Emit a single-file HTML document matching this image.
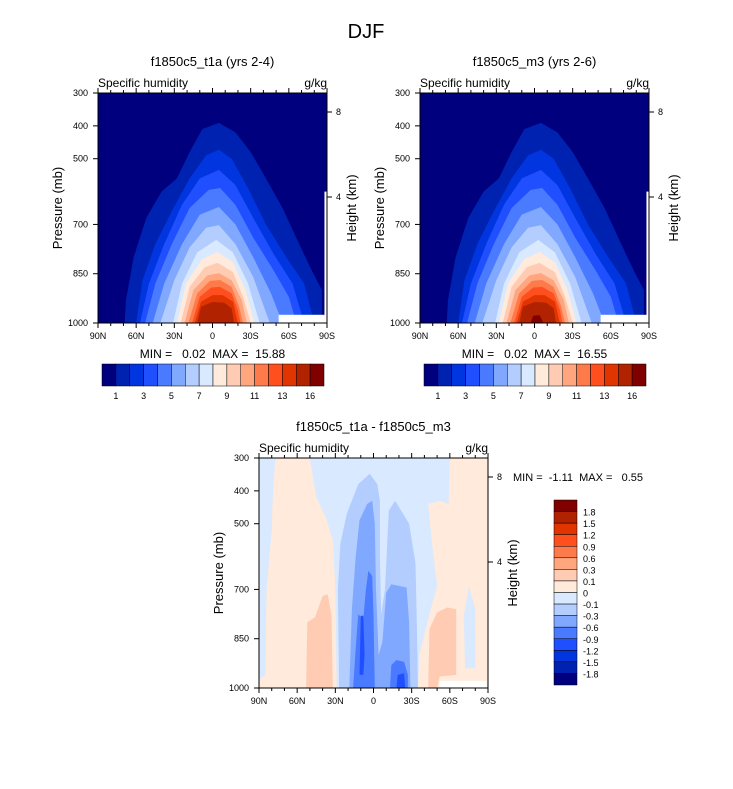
<!DOCTYPE html>
<html><head><meta charset="utf-8"><style>
body{margin:0;background:#fff;}
svg text{font-family:"Liberation Sans",sans-serif;fill:#000;white-space:pre;}
</style></head><body>
<svg id="s" width="733" height="784" viewBox="0 0 733 784" xmlns="http://www.w3.org/2000/svg">
<text x="366" y="38" font-size="20" text-anchor="middle">DJF</text>
</svg>
<script>
// ---------- data ----------
const colorsAbs = ["#00007f","#0022b0","#0035e0","#1f4fff","#4a7aff","#80a8ff","#b3cdff","#d9e9ff","#ffeadb","#ffcbb3","#ffa67f","#ff7a4a","#ff4f1f","#e03500","#b02200","#800000"];
const absBarLabels = ["1","3","5","7","9","11","13","16"];
const diffBarLabels = ["1.8","1.5","1.2","0.9","0.6","0.3","0.1","0","-0.1","-0.3","-0.6","-0.9","-1.2","-1.5","-1.8"];
const pressureTicks = [300,400,500,700,850,1000];
const latTicks = [90,60,30,0,-30,-60,-90];
const latTickLabels = ["90N","60N","30N","0","30S","60S","90S"];
const heightTicks = [8,4];
// level contour profiles [lat, pressure]
const levelsA = [
 [1,[[69,1000],[68,930],[62,800],[52,680],[40,600],[28,560],[18,480],[8,410],[-5,391],[-18,420],[-30,480],[-42,560],[-55,650],[-67,750],[-78,840],[-86,900],[-86,1000]]],
 [2,[[60,1000],[55,870],[45,760],[32,660],[18,560],[5,490],[-5,473],[-15,500],[-28,590],[-42,700],[-58,800],[-72,880],[-80,1000]]],
 [3,[[57,1000],[50,880],[38,760],[24,640],[10,560],[-5,534],[-18,580],[-32,680],[-48,790],[-63,880],[-72,1000]]],
 [4,[[53,1000],[45,880],[32,760],[18,650],[3,595],[-6,589],[-18,640],[-32,740],[-48,840],[-60,920],[-66,1000]]],
 [5,[[47,1000],[38,880],[24,760],[10,670],[-5,647],[-18,700],[-32,800],[-46,910],[-55,1000]]],
 [6,[[41,1000],[30,870],[18,770],[5,710],[-5,702],[-18,760],[-32,860],[-45,1000]]],
 [7,[[31,1000],[24,880],[12,785],[-3,747],[-16,785],[-28,880],[-37,1000]]],
 [8,[[28,1000],[21,880],[8,805],[-4,784],[-16,815],[-26,900],[-33,1000]]],
 [9,[[25,1000],[18,890],[6,830],[-4,817],[-16,845],[-24,920],[-30,1000]]],
 [10,[[22,1000],[15,900],[4,855],[-5,848],[-15,870],[-23,930],[-27,1000]]],
 [11,[[19,1000],[12,910],[2,872],[-6,869],[-15,890],[-21,950],[-24,1000]]],
 [12,[[16,1000],[10,920],[1,892],[-6,890],[-15,910],[-20,960],[-22,1000]]],
 [13,[[14,1000],[9,935],[0,915],[-8,915],[-16,935],[-20,1000]]],
 [14,[[12,1000],[9,950],[0,936],[-9,938],[-15,955],[-17,1000]]]
];
const levelsB = levelsA.concat([[15,[[3,1000],[1,978],[-4,976],[-7,1000]]]]);
// diff field regions [colorIndex, polygon of [lat,p]]
const diffRegions = [
 [8,[[77,300],[50,300],[45,420],[37,485],[32,552],[30,694],[29,1000],[90,1000],[90,975],[85,960],[84,700],[80,520],[79,400]]],
 [8,[[-60,300],[-90,300],[-90,1000],[-35,1000],[-36,900],[-44,775],[-50,690],[-46,560],[-43,440],[-52,430],[-59,440]]],
 [7,[[-71,780],[-75,690],[-80,760],[-80,940],[-72,940]]],
 [9,[[53,1000],[52,800],[46,785],[40,720],[36,715],[33,780],[32,1000]]],
 [9,[[-43,1000],[-44,820],[-50,770],[-58,755],[-65,760],[-65,960],[-52,965],[-50,1000]]],
 [6,[[27,1000],[28,700],[26,560],[21,470],[12,380],[3,348],[-3,380],[-5,430],[-5,600],[-6,776],[-9,700],[-12,460],[-17,430],[-28,500],[-33,620],[-34,800],[-35,1000]]],
 [5,[[19,1000],[17,760],[14,600],[11,490],[5,440],[1,430],[-1,500],[-2,700],[-4,900],[-7,860],[-10,710],[-14,684],[-26,694],[-28,800],[-29,1000]]],
 [4,[[16,1000],[14,880],[12,776],[8,790],[6,700],[4,643],[1,660],[0,780],[-1,1000]]],
 [4,[[-13,1000],[-14,930],[-18,915],[-24,920],[-27,960],[-27,1000]]],
 [3,[[11,960],[10,780],[8,780],[7,900],[8,960]]],
 [3,[[-18,1000],[-19,960],[-24,955],[-25,1000]]]
];
// ---------- drawing ----------
const NS="http://www.w3.org/2000/svg";
const svg=document.getElementById('s');
function mk(tag,attrs,parent){const e=document.createElementNS(NS,tag);for(const k in attrs)e.setAttribute(k,attrs[k]);(parent||svg).appendChild(e);return e;}
function txt(x,y,s,size,anchor,parent,rot){const t=mk('text',{x:x,y:y,'font-size':size,'text-anchor':anchor||'start'},parent);if(rot)t.setAttribute('transform','rotate(-90 '+x+' '+y+')');t.textContent=s;return t;}

function panel(x0,y0,name,title,minmax,regions,bg,whites){
  const W=229,H=230;
  const xs=lat=>x0+(90-lat)/180*W;
  const ys=p=>y0+(p-300)/700*H;
  const g=mk('g',{});
  
  
  const bgr=mk('rect',{x:x0,y:y0,width:W,height:H,fill:colorsAbs[bg]},g);
  
  
  regions.forEach((r,i)=>{
    const pts=r[1].map(q=>xs(q[0]).toFixed(1)+','+ys(q[1]).toFixed(1)).join(' ');
    const pg=mk('polygon',{points:pts,fill:colorsAbs[r[0]]},g);
    
    
  });
  whites.forEach(w=>{const e=mk('rect',{x:xs(w[0]),y:ys(w[2]),width:xs(w[1])-xs(w[0]),height:ys(w[3])-ys(w[2]),fill:'#fff'},g);
    
    });
  const fr=mk('rect',{x:x0,y:y0,width:W,height:H,fill:'none',stroke:'#000','stroke-width':1},g);
  
  
  for(let lat=90;lat>=-90;lat-=10){const major=lat%30===0;const L=major?5:3;
    mk('line',{x1:xs(lat),x2:xs(lat),y1:y0,y2:y0-L,stroke:'#000'},g);
    mk('line',{x1:xs(lat),x2:xs(lat),y1:y0+H,y2:y0+H+L,stroke:'#000'},g);}
  latTicks.forEach((lat,i)=>{const t=txt(xs(lat),y0+H+16,latTickLabels[i],9,'middle',g);
    
    });
  pressureTicks.forEach(p=>{mk('line',{x1:x0,x2:x0-5,y1:ys(p),y2:ys(p),stroke:'#000'},g);
    const t=txt(x0-10,ys(p)+3,String(p),9,'end',g);
    
    });
  heightTicks.forEach(h=>{const yy=(h===8)?y0+19:y0+104;
    mk('line',{x1:x0+W,x2:x0+W+5,y1:yy,y2:yy,stroke:'#000'},g);
    const t=txt(x0+W+9,yy+3,String(h),9,'start',g);
    
    });
  const yt=txt(x0-36,y0+H/2,'Pressure (mb)',13,'middle',g,true);
  
  
  const ht=txt(x0+W+29,y0+H/2,'Height (km)',13,'middle',g,true);
  
  
  const st=txt(x0,y0-6,'Specific humidity',12,'start',g);
  
  
  const ut=txt(x0+W,y0-6,'g/kg',12,'end',g);
  
  
  const tt=txt(x0+W/2,y0-27,title,13,'middle',g);
  
  
  if(minmax){const m=txt(x0+W/2,y0+H+35,minmax,12,'middle',g);
    
    }
}
function hbar(x0,y0,name){
  const g=mk('g',{});
  
  
  const bw=222/16;
  colorsAbs.forEach((c,i)=>{const r=mk('rect',{x:x0+i*bw,y:y0,width:bw,height:22,fill:c,stroke:'#000','stroke-width':0.5},g);
    
    });
  absBarLabels.forEach((s,i)=>{const t=txt(x0+(2*i+1)*bw,y0+35,s,9,'middle',g);
    
    });
}
const whiteA=[[-52,-88,975,1000],[-88,-90,600,1000]];
panel(98,93,'panel-t1a','f1850c5_t1a (yrs 2-4)','MIN =   0.02  MAX =  15.88',levelsA,0,whiteA);
panel(420,93,'panel-m3','f1850c5_m3 (yrs 2-6)','MIN =   0.02  MAX =  16.55',levelsB,0,whiteA);
hbar(102,364,'colorbar-t1a');
hbar(424,364,'colorbar-m3');
panel(259,458,'panel-diff','f1850c5_t1a - f1850c5_m3',null,diffRegions,7,[[-52,-89,978,1000]]);
const mm=txt(513,481,'MIN =  -1.11  MAX =   0.55',11,'start');


(function(){
  const g=mk('g',{});
  
  
  const x0=554,y0=500,bh=185/16;
  colorsAbs.slice().reverse().forEach((c,i)=>{const r=mk('rect',{x:x0,y:y0+i*bh,width:23,height:bh,fill:c,stroke:'#000','stroke-width':0.5},g);
    
    });
  diffBarLabels.forEach((s,i)=>{const t=txt(x0+29,y0+(i+1)*bh+4,s,9,'start',g);
    
    });
})();
</script>
</body></html>
